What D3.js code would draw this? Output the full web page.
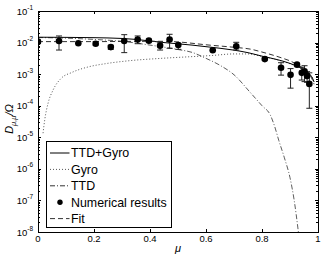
<!DOCTYPE html>
<html>
<head>
<meta charset="utf-8">
<script src="https://cdn.jsdelivr.net/npm/d3@7"></script>
<style>
  body { margin: 0; background: #fff; }
  svg { display: block; font-family: "Liberation Sans", Arial, sans-serif; }
</style>
</head>
<body>
<div id="chart"></div>
<script>
// curves: [mu, log10(D/Omega)]
var ttd_gyro = [[0,-1.83],[0.1,-1.835],[0.2,-1.845],[0.3,-1.87],[0.35,-1.9],[0.4,-1.95],[0.45,-2.0],
  [0.5,-2.04],[0.55,-2.08],[0.6,-2.13],[0.65,-2.18],[0.7,-2.24],[0.75,-2.32],[0.8,-2.43],[0.85,-2.53],
  [0.9,-2.66],[0.93,-2.77],[0.95,-2.86],[0.97,-3.0],[0.98,-3.12],[0.986,-3.25]];
var gyro = [[0.018,-4.87],[0.024,-4.45],[0.036,-3.92],[0.054,-3.5],[0.083,-3.13],[0.12,-2.95],[0.18,-2.77],
  [0.24,-2.67],[0.32,-2.58],[0.44,-2.5],[0.54,-2.45],[0.62,-2.41],[0.7,-2.36],[0.75,-2.36],[0.8,-2.44],
  [0.85,-2.54],[0.9,-2.67],[0.93,-2.78],[0.95,-2.87],[0.97,-3.01],[0.98,-3.13],[0.986,-3.26]];
var ttd = [[0,-1.84],[0.1,-1.86],[0.2,-1.9],[0.3,-1.96],[0.4,-2.08],[0.5,-2.22],[0.55,-2.31],[0.6,-2.5],
  [0.65,-2.72],[0.7,-3.02],[0.76,-3.6],[0.8,-4.0],[0.83,-4.3],[0.845,-4.65],[0.86,-5.1],[0.88,-5.65],
  [0.9,-6.28],[0.915,-7.0],[0.93,-8.0]];
var fit = [[0,-1.97],[0.1,-1.97],[0.2,-1.97],[0.3,-1.965],[0.4,-1.96],[0.45,-1.96],[0.5,-1.98],[0.6,-2.07],
  [0.7,-2.15],[0.76,-2.21],[0.8,-2.3],[0.875,-2.5],[0.9,-2.58],[0.93,-2.72],[0.95,-2.83],[0.97,-3.0],
  [0.98,-3.18],[0.986,-3.32]];

// numerical results: mu, value, lower, upper
var num_mu  = [0, 0.075, 0.144, 0.206, 0.26, 0.308, 0.356, 0.396, 0.436, 0.47, 0.501, 0.624, 0.708,
  0.81, 0.868, 0.902, 0.925, 0.942, 0.952, 0.961, 0.969];
var num_val = [1.07e-2, 1.12e-2, 9.5e-3, 9.2e-3, 7.2e-3, 1.12e-2, 1.24e-2, 1.15e-2, 8.0e-3, 1.24e-2, 8.4e-3,
  5.7e-3, 7.6e-3, 3.0e-3, 1.6e-3, 9.5e-4, 2.0e-3, 1.1e-3, 1.22e-3, 8.8e-4, 4.9e-4];
var num_lo  = [1.07e-2, 5.8e-3, 9.5e-3, 8.4e-3, 6.1e-3, 4.8e-3, 9.2e-3, 1.04e-2, 5.8e-3, 6.6e-3, 6.1e-3,
  5.7e-3, 5.8e-3, 2.8e-3, 9.3e-4, 3.6e-4, 1.9e-3, 6.5e-4, 5.8e-4, 5.5e-4, 8.3e-5];
var num_hi  = [1.07e-2, 1.62e-2, 9.5e-3, 1.07e-2, 8.2e-3, 1.78e-2, 1.62e-2, 1.27e-2, 1.04e-2, 1.83e-2, 9.5e-3,
  5.7e-3, 1.02e-2, 3.2e-3, 2.3e-3, 1.5e-3, 2.1e-3, 1.65e-3, 1.85e-3, 1.2e-3, 1.1e-3];

var x_ticks = [0, 0.2, 0.4, 0.6, 0.8, 1];
var y_exps = [-8, -7, -6, -5, -4, -3, -2, -1];

var margin = {top: 11, left: 38},
    width = 280, height = 221;

var svg = d3.select("#chart").append("svg")
  .attr("width", 327).attr("height", 256);

var x = d3.scaleLinear().domain([0, 1]).range([0, width]);
var y = d3.scaleLog().domain([1e-8, 1e-1]).range([height, 0]);

var g = svg.append("g")
  .attr("transform", "translate(" + margin.left + "," + margin.top + ")");

g.append("clipPath").attr("id", "clip")
  .append("rect").attr("width", width).attr("height", height);

var line = d3.line()
  .x(function(d) { return x(d[0]); })
  .y(function(d) { return y(Math.pow(10, d[1])); })
  .curve(d3.curveMonotoneX);

var plot = g.append("g").attr("clip-path", "url(#clip)");

var styles = {
  ttd_gyro: {stroke: "#000", dash: null},
  gyro: {stroke: "#555", dash: "1,2"},
  ttd: {stroke: "#333", dash: "5,2,1,2"},
  fit: {stroke: "#333", dash: "5,3"}
};

plot.append("path").datum(gyro).attr("d", line)
  .attr("fill", "none").attr("stroke", styles.gyro.stroke).attr("stroke-dasharray", styles.gyro.dash);
plot.append("path").datum(ttd).attr("d", line)
  .attr("fill", "none").attr("stroke", styles.ttd.stroke).attr("stroke-width", 0.8)
  .attr("stroke-dasharray", styles.ttd.dash);
plot.append("path").datum(ttd_gyro).attr("d", line)
  .attr("fill", "none").attr("stroke", styles.ttd_gyro.stroke);
plot.append("path").datum(fit).attr("d", line)
  .attr("fill", "none").attr("stroke", styles.fit.stroke).attr("stroke-dasharray", styles.fit.dash);

// error bars + points
var pts = num_mu.map(function(m, i) {
  return {mu: m, v: num_val[i], lo: num_lo[i], hi: num_hi[i]};
});
var eb = plot.selectAll(".eb").data(pts.filter(function(d) { return d.hi / d.lo > 1.05; }))
  .enter().append("g").attr("stroke", "#222").attr("stroke-width", 1);
eb.append("line")
  .attr("x1", function(d) { return x(d.mu); }).attr("x2", function(d) { return x(d.mu); })
  .attr("y1", function(d) { return y(d.lo); }).attr("y2", function(d) { return y(d.hi); });
eb.append("line")
  .attr("x1", function(d) { return x(d.mu) - 3; }).attr("x2", function(d) { return x(d.mu) + 3; })
  .attr("y1", function(d) { return y(d.lo); }).attr("y2", function(d) { return y(d.lo); });
eb.append("line")
  .attr("x1", function(d) { return x(d.mu) - 3; }).attr("x2", function(d) { return x(d.mu) + 3; })
  .attr("y1", function(d) { return y(d.hi); }).attr("y2", function(d) { return y(d.hi); });

plot.selectAll(".pt").data(pts).enter().append("circle")
  .attr("cx", function(d) { return x(d.mu); })
  .attr("cy", function(d) { return y(d.v); })
  .attr("r", 3.3).attr("fill", "#000");

// axes box + ticks (inward, matlab style)
g.append("rect").attr("x", 0.5).attr("y", 0.5).attr("width", width).attr("height", height)
  .attr("fill", "none").attr("stroke", "#000").attr("stroke-width", 1);

var ticks = g.append("g").attr("stroke", "#000").attr("stroke-width", 1);
x_ticks.forEach(function(t) {
  var px = Math.round(x(t)) + 0.5;
  ticks.append("line").attr("x1", px).attr("x2", px).attr("y1", height).attr("y2", height - 3);
  ticks.append("line").attr("x1", px).attr("x2", px).attr("y1", 0).attr("y2", 3);
});
y_exps.forEach(function(e) {
  for (var m = 1; m < 10; m++) {
    var v = m * Math.pow(10, e);
    if (v > 0.1 + 1e-12) break;
    var py = Math.round(y(v)) + 0.5;
    var len = m == 1 ? 3 : 2;
    ticks.append("line").attr("x1", 0).attr("x2", len).attr("y1", py).attr("y2", py);
    ticks.append("line").attr("x1", width).attr("x2", width - len).attr("y1", py).attr("y2", py);
  }
});

// tick labels
g.selectAll(".xl").data(x_ticks).enter().append("text")
  .attr("x", function(d) { return x(d); })
  .attr("y", height + 9.5)
  .attr("text-anchor", "middle")
  .attr("font-size", 9.5)
  .text(function(d) { return d; });

var yl = g.selectAll(".yl").data(y_exps).enter().append("text")
  .attr("x", -5)
  .attr("y", function(d) { return y(Math.pow(10, d)) + 3.5; })
  .attr("text-anchor", "end")
  .attr("font-size", 9.5);
yl.append("tspan").text("10");
yl.append("tspan").attr("dy", -5).attr("font-size", 6.5).text(function(d) { return "-" + Math.abs(d); });

// axis labels
svg.append("text")
  .attr("x", margin.left + x(0.5))
  .attr("y", 252)
  .attr("text-anchor", "middle")
  .attr("font-size", 11).attr("font-style", "italic")
  .text("μ");

var ylab = svg.append("text")
  .attr("transform", "translate(13,119) rotate(-90)")
  .attr("text-anchor", "middle")
  .attr("font-size", 11);
ylab.append("tspan").attr("font-style", "italic").text("D");
ylab.append("tspan").attr("font-size", 7.5).attr("dy", 2.5).attr("font-style", "italic").text("μ,μ");
ylab.append("tspan").attr("dy", -2.5).attr("font-style", "italic").text("/Ω");

// legend
var legend_labels = ["TTD+Gyro", "Gyro", "TTD", "Numerical results", "Fit"];
var legend_keys = ["ttd_gyro", "gyro", "ttd", "num", "fit"];
var lg = svg.append("g").attr("transform", "translate(46.5,141.5)");
lg.append("rect").attr("width", 125).attr("height", 86)
  .attr("fill", "#fff").attr("stroke", "#000").attr("stroke-width", 1);
var items = lg.selectAll(".li").data(legend_keys).enter().append("g")
  .attr("transform", function(d, i) { return "translate(0," + (11.5 + i * 16.4) + ")"; });
items.each(function(k) {
  var it = d3.select(this);
  if (k == "num") {
    it.append("circle").attr("cx", 13.5).attr("cy", 0).attr("r", 2.7).attr("fill", "#000");
  } else {
    it.append("line").attr("x1", 3.5).attr("x2", 23).attr("y1", 0).attr("y2", 0)
      .attr("stroke", styles[k].stroke).attr("stroke-dasharray", styles[k].dash);
  }
});
items.append("text")
  .attr("x", 24.5).attr("y", 0).attr("dy", "0.36em")
  .attr("font-size", 12.4)
  .text(function(d, i) { return legend_labels[i]; });
</script>
</body>
</html>
